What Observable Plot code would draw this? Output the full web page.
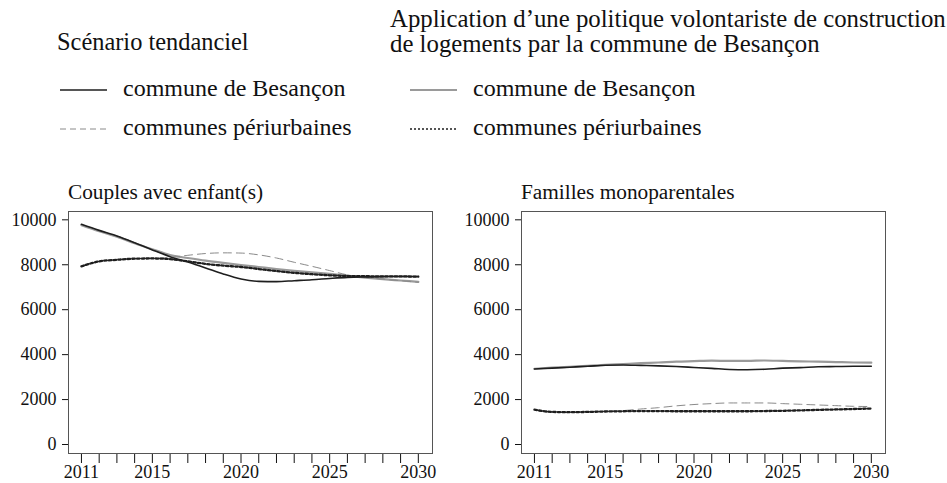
<!DOCTYPE html>
<html>
<head>
<meta charset="utf-8">
<script src="https://cdn.jsdelivr.net/npm/d3@7"></script>
<script src="https://cdn.jsdelivr.net/npm/@observablehq/plot@0.6"></script>
<style>
  html, body { margin: 0; padding: 0; background: #fff; }
  #wrap { position: relative; width: 947px; height: 483px; overflow: hidden; font-family: "Liberation Serif", "Times New Roman", serif; color: #111; }
  .panel { position: absolute; top: 170px; }
  #overlay { position: absolute; left: 0; top: 0; pointer-events: none; }
</style>
</head>
<body>
<div id="wrap">
  <div class="panel" id="left" style="left:0px"></div>
  <div class="panel" id="right" style="left:453px"></div>
</div>
<script>
// ---------- data ----------
const years = [2011, 2012, 2013, 2014, 2015, 2016, 2017, 2018, 2019, 2020,
               2021, 2022, 2023, 2024, 2025, 2026, 2027, 2028, 2029, 2030];
const xTickLabels = [2011, 2015, 2020, 2025, 2030];
const yTicks = [0, 2000, 4000, 6000, 8000, 10000];

const panelTitles = ["Couples avec enfant(s)", "Familles monoparentales"];

const groupTitles = ["Scénario tendanciel",
  "Application d\u2019une politique volontariste de construction",
  "de logements par la commune de Besançon"];
const seriesLabels = ["commune de Besançon", "communes périurbaines",
                      "commune de Besançon", "communes périurbaines"];

// Couples avec enfant(s)
const couplesTendBesancon = [9800, 9530, 9280, 8980, 8660, 8360, 8120, 7860, 7590, 7370,
                             7260, 7250, 7290, 7330, 7390, 7440, 7460, 7470, 7480, 7480];
const couplesTendPeri     = [7930, 8150, 8220, 8270, 8290, 8320, 8420, 8500, 8530, 8520,
                             8440, 8300, 8110, 7930, 7740, 7550, 7440, 7360, 7290, 7220];
const couplesVolBesancon  = [9760, 9490, 9250, 8960, 8690, 8430, 8300, 8180, 8080, 7990,
                             7900, 7810, 7730, 7660, 7590, 7510, 7430, 7360, 7300, 7240];
const couplesVolPeri      = [7930, 8150, 8220, 8270, 8280, 8250, 8150, 8040, 7960, 7900,
                             7810, 7720, 7640, 7580, 7530, 7500, 7490, 7480, 7480, 7470];

// Familles monoparentales
const monoTendBesancon = [3360, 3400, 3440, 3480, 3530, 3540, 3520, 3500, 3470, 3430,
                          3390, 3340, 3330, 3350, 3400, 3420, 3460, 3470, 3480, 3480];
const monoTendPeri     = [1550, 1440, 1420, 1450, 1480, 1510, 1580, 1640, 1720, 1780,
                          1820, 1850, 1850, 1850, 1820, 1790, 1760, 1730, 1700, 1690];
const monoVolBesancon  = [3370, 3420, 3460, 3500, 3540, 3580, 3620, 3650, 3690, 3710,
                          3730, 3720, 3720, 3740, 3720, 3700, 3690, 3670, 3650, 3640];
const monoVolPeri      = [1550, 1450, 1440, 1450, 1470, 1480, 1490, 1490, 1480, 1480,
                          1480, 1480, 1480, 1490, 1500, 1520, 1540, 1560, 1580, 1600];

// ---------- styles (per series, drawing order) ----------
const seriesStyles = [
  {key: "volBes",  stroke: "#9a9a9a", strokeWidth: 2.2, strokeDasharray: null},
  {key: "tendPeri", stroke: "#8a8a8a", strokeWidth: 1, strokeDasharray: "8,5"},
  {key: "tendBes", stroke: "#1e1e1e", strokeWidth: 1.6, strokeDasharray: null},
  {key: "volPeri", stroke: "#1e1e1e", strokeWidth: 2.3, strokeDasharray: "2.5,2.2"}
];

function rowsFor(map) {
  const rows = [];
  for (const k of Object.keys(map)) {
    years.forEach((yr, i) => rows.push({key: k, year: yr, value: map[k][i]}));
  }
  return rows;
}

function panel(map) {
  const rows = rowsFor(map);
  return Plot.plot({
    width: 460,
    height: 313,
    marginLeft: 68,
    marginRight: 28,
    marginTop: 41,
    marginBottom: 30,
    style: {fontFamily: "'Liberation Serif', 'Times New Roman', serif", fontSize: "18px", color: "#111", background: "transparent", overflow: "visible"},
    x: {domain: [2010.27, 2030.8], ticks: years, tickSize: 10, tickPadding: 2,
        tickFormat: d => xTickLabels.includes(d) ? String(d) : "", label: null},
    y: {domain: [-400, 10370], ticks: yTicks, tickSize: 6, tickPadding: 6, label: null,
        tickFormat: d => String(d)},
    marks: [
      Plot.frame({stroke: "#555", strokeWidth: 1}),
      ...seriesStyles.map(s => Plot.line(rows.filter(r => r.key === s.key), {
        x: "year", y: "value", curve: "monotone-x",
        stroke: s.stroke, strokeWidth: s.strokeWidth,
        strokeDasharray: s.strokeDasharray || undefined
      }))
    ]
  });
}

document.getElementById("left").appendChild(panel({
  tendBes: couplesTendBesancon, tendPeri: couplesTendPeri,
  volBes: couplesVolBesancon, volPeri: couplesVolPeri
}));
document.getElementById("right").appendChild(panel({
  tendBes: monoTendBesancon, tendPeri: monoTendPeri,
  volBes: monoVolBesancon, volPeri: monoVolPeri
}));

// ---------- titles & legend overlay ----------
const svg = d3.select("#wrap").append("svg")
  .attr("id", "overlay").attr("width", 947).attr("height", 483)
  .style("font-family", "'Liberation Serif', 'Times New Roman', serif")
  .attr("fill", "#111");

// panel titles
svg.append("text").attr("x", 68).attr("y", 199).attr("font-size", 21.3).text(panelTitles[0]);
svg.append("text").attr("x", 521).attr("y", 199).attr("font-size", 21.3).text(panelTitles[1]);

// group headers
svg.append("text").attr("x", 57).attr("y", 50).attr("font-size", 24.4).text(groupTitles[0]);
svg.append("text").attr("x", 390).attr("y", 27).attr("font-size", 24.8).text(groupTitles[1]);
svg.append("text").attr("x", 390).attr("y", 52).attr("font-size", 24.8).text(groupTitles[2]);

// legend entries
const legendItems = [
  {x: 60, y: 90, label: seriesLabels[0], style: seriesStyles[2]},
  {x: 60, y: 129, label: seriesLabels[1], style: {stroke: "#8a8a8a", strokeWidth: 1, strokeDasharray: "6,4"}},
  {x: 410, y: 90, label: seriesLabels[2], style: seriesStyles[0]},
  {x: 410, y: 129, label: seriesLabels[3], style: {stroke: "#1e1e1e", strokeWidth: 1.6, strokeDasharray: "2,2"}}
];
legendItems.forEach(it => {
  svg.append("line")
    .attr("x1", it.x).attr("x2", it.x + 47).attr("y1", it.y).attr("y2", it.y)
    .attr("stroke", it.style.stroke).attr("stroke-width", it.style.strokeWidth)
    .attr("stroke-dasharray", it.style.strokeDasharray);
  svg.append("text").attr("x", it.x + 63).attr("y", it.y + 6).attr("font-size", 24).text(it.label);
});
</script>
</body>
</html>
